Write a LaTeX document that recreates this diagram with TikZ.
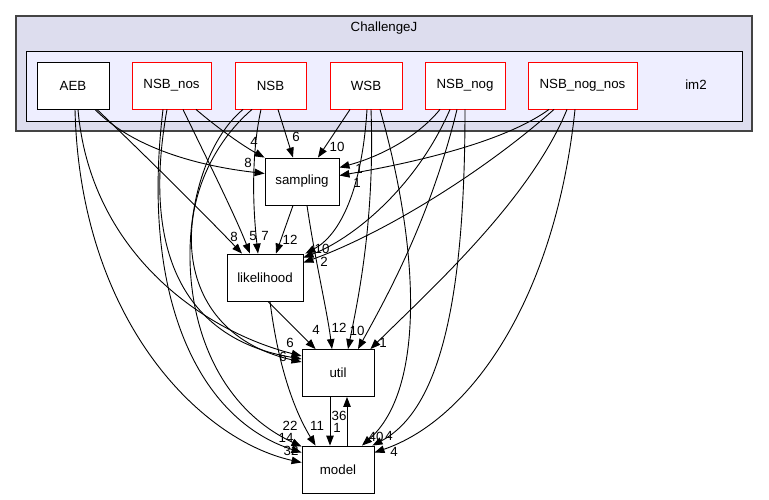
\documentclass[tikz,border=0pt]{standalone}
\usepackage{fontspec}
\setmainfont{Liberation Sans}
\usetikzlibrary{arrows.meta,calc}
\definecolor{outerfill}{HTML}{DDDDEE}
\definecolor{outerdraw}{HTML}{444444}
\definecolor{innerfill}{HTML}{EEEEFF}
\begin{document}
\begin{tikzpicture}[x=1pt,y=-1pt,
  txt/.style={font=\fontsize{13.3}{15}\selectfont},
  dirbox/.style={txt,draw=red,fill=white,line width=0.9pt,minimum height=47pt,inner sep=0pt},
  plainbox/.style={txt,draw=black,fill=white,line width=0.9pt,minimum height=47pt,inner sep=0pt},
  dep/.style={draw=black,line width=0.9pt,-{Triangle[length=10pt,width=7.5pt]}},
  lbl/.style={txt,inner sep=0pt}
]
\useasboundingbox (0,0) rectangle (769,499);
% clusters
\draw[fill=outerfill,draw=outerdraw,line width=1.6pt] (16,16) rectangle (752,131);
\node[txt] (title) at (384,28) {ChallengeJ};
\draw[fill=innerfill,draw=black,line width=1pt] (26,51) rectangle (742,121);
\node[txt] (im2) at (696,85) {im2};
% nodes
\node[plainbox,minimum width=72pt] (AEB) at (73,85.5) {AEB};
\node[dirbox,minimum width=79pt] (NSBnos) at (171.5,85.5) {NSB\_nos};
\node[dirbox,minimum width=71pt] (NSB) at (270.5,85.5) {NSB};
\node[dirbox,minimum width=72pt] (WSB) at (366,85.5) {WSB};
\node[dirbox,minimum width=80pt] (NSBnog) at (465,85.5) {NSB\_nog};
\node[dirbox,minimum width=109pt] (NSBnognos) at (582.5,85.5) {NSB\_nog\_nos};
\node[plainbox,minimum width=74pt] (sampling) at (302,181.5) {sampling};
\node[plainbox,minimum width=76pt] (likelihood) at (265,277.5) {likelihood};
\node[plainbox,minimum width=72pt] (util) at (338,373) {util};
\node[plainbox,minimum width=72pt] (model) at (338,469.5) {model};
% AEB
\draw[dep] ($(AEB.south)+(22,0)$) .. controls (130,145) and (190,165) .. ($(sampling.west)+(0,-8)$);
\draw[dep] ($(AEB.south)+(24,0)$) .. controls (150,160) and (210,220) .. ($(likelihood.north)+(-23,0)$);
\draw[dep] ($(AEB.south)+(5,0)$) .. controls (90,250) and (200,330) .. ($(util.west)+(0,-17)$);
\draw[dep] ($(AEB.south)+(2,0)$) .. controls (80,320) and (200,440) .. ($(model.west)+(0,-7)$);
% NSB_nos
\draw[dep] ($(NSBnos.south)+(24.5,0)$) .. controls (220,130) and (245,147) .. (sampling.north west);
\draw[dep] ($(NSBnos.south)+(11.5,0)$) .. controls (205,155) and (235,215) .. ($(likelihood.north)+(-15,0)$);
\draw[dep] ($(NSBnos.south)+(-4.5,0)$) .. controls (140,260) and (190,340) .. ($(util.west)+(0,-14)$);
\draw[dep] ($(NSBnos.south)+(-8.5,0)$) .. controls (140,300) and (200,420) .. ($(model.west)+(0,-17)$);
% NSB
\draw[dep] ($(NSB.south)+(7.5,0)$) -- ($(sampling.north)+(-9,0)$);
\draw[dep] ($(NSB.south)+(-9.5,0)$) .. controls (252,150) and (252,200) .. ($(likelihood.north)+(-7,0)$);
\draw[dep] ($(NSB.south)+(-18.5,0)$) .. controls (170,180) and (160,330) .. ($(util.west)+(0,-11)$);
\draw[dep] ($(NSB.south)+(-27.5,0)$) .. controls (170,170) and (160,380) .. ($(model.north west)+(0,1)$);
% WSB
\draw[dep] ($(WSB.south)+(-16,0)$) -- ($(sampling.north)+(16,0)$);
\draw[dep] ($(WSB.south)+(1,0)$) .. controls (362,190) and (340,235) .. ($(likelihood.north east)+(2,0)$);
\draw[dep] ($(WSB.south)+(5,0)$) .. controls (375,220) and (358,300) .. ($(util.north)+(10,0)$);
\draw[dep] ($(WSB.south)+(14,0)$) .. controls (420,250) and (425,390) .. ($(model.north)+(24,0)$);
% NSB_nog
\draw[dep] ($(NSBnog.south)+(-25,0)$) .. controls (415,140) and (375,158) .. ($(sampling.east)+(0,-14)$);
\draw[dep] ($(NSBnog.south)+(-15,0)$) .. controls (415,190) and (350,240) .. ($(likelihood.east)+(0,-20)$);
\draw[dep] ($(NSBnog.south)+(-8,0)$) .. controls (430,220) and (385,300) .. ($(util.north)+(20,0)$);
\draw[dep] (NSBnog.south) .. controls (465,300) and (440,410) .. ($(model.north east)+(-2,0)$);
% NSB_nog_nos
\draw[dep] ($(NSBnognos.south)+(-33.5,0)$) .. controls (500,145) and (400,165) .. ($(sampling.east)+(0,-6)$);
\draw[dep] ($(NSBnognos.south)+(-28.5,0)$) .. controls (480,175) and (380,235) .. ($(likelihood.east)+(0,-15)$);
\draw[dep] ($(NSBnognos.south)+(-15.5,0)$) .. controls (530,200) and (430,290) .. ($(util.north east)+(-4,0)$);
\draw[dep] ($(NSBnognos.south)+(-7.5,0)$) .. controls (555,300) and (470,420) .. ($(model.east)+(0,-17)$);
% inner
\draw[dep] ($(sampling.south)+(-9,0)$) -- ($(likelihood.north)+(11,0)$);
\draw[dep] ($(sampling.south)+(5,0)$) .. controls (315,260) and (327,310) .. ($(util.north)+(-6,0)$);
\draw[dep] ($(likelihood.south)+(3,0)$) -- ($(util.north west)+(14,0)$);
\draw[dep] ($(likelihood.south)+(5,0)$) .. controls (280,380) and (300,420) .. ($(model.north west)+(14,0)$);
\draw[dep] ($(util.south)+(-8,0)$) -- ($(model.north)+(-8,0)$);
\draw[dep] ($(model.north)+(9,0)$) -- ($(util.south)+(9,0)$);
% labels
\node[lbl] (l1) at (248,163) {8};
\node[lbl] (l2) at (254,142) {4};
\node[lbl] (l3) at (296,137) {6};
\node[lbl] (l4) at (337,147) {10};
\node[lbl] (l5) at (359,169) {1};
\node[lbl] (l6) at (357,183) {1};
\node[lbl] (l7) at (234,237) {8};
\node[lbl] (l8) at (253,236) {5};
\node[lbl] (l9) at (265,236) {7};
\node[lbl] (l10) at (290,240) {12};
\node[lbl] (l11) at (322,249) {10};
\node[lbl] (l12) at (324,262) {2};
\node[lbl] (l13) at (290,343) {6};
\node[lbl] (l14) at (283,357) {6};
\node[lbl] (l15) at (316,330) {4};
\node[lbl] (l16) at (339,328) {12};
\node[lbl] (l17) at (357,331) {10};
\node[lbl] (l18) at (383,343) {1};
\node[lbl] (l19) at (290,426) {22};
\node[lbl] (l20) at (317,426) {11};
\node[lbl] (l21) at (286,438) {14};
\node[lbl] (l22) at (291,451) {32};
\node[lbl] (l23) at (339,416) {36};
\node[lbl] (l24) at (337,428) {1};
\node[lbl] (l25) at (376,437) {40};
\node[lbl] (l26) at (389,436) {4};
\node[lbl] (l27) at (394,452) {4};
\end{tikzpicture}
\end{document}
